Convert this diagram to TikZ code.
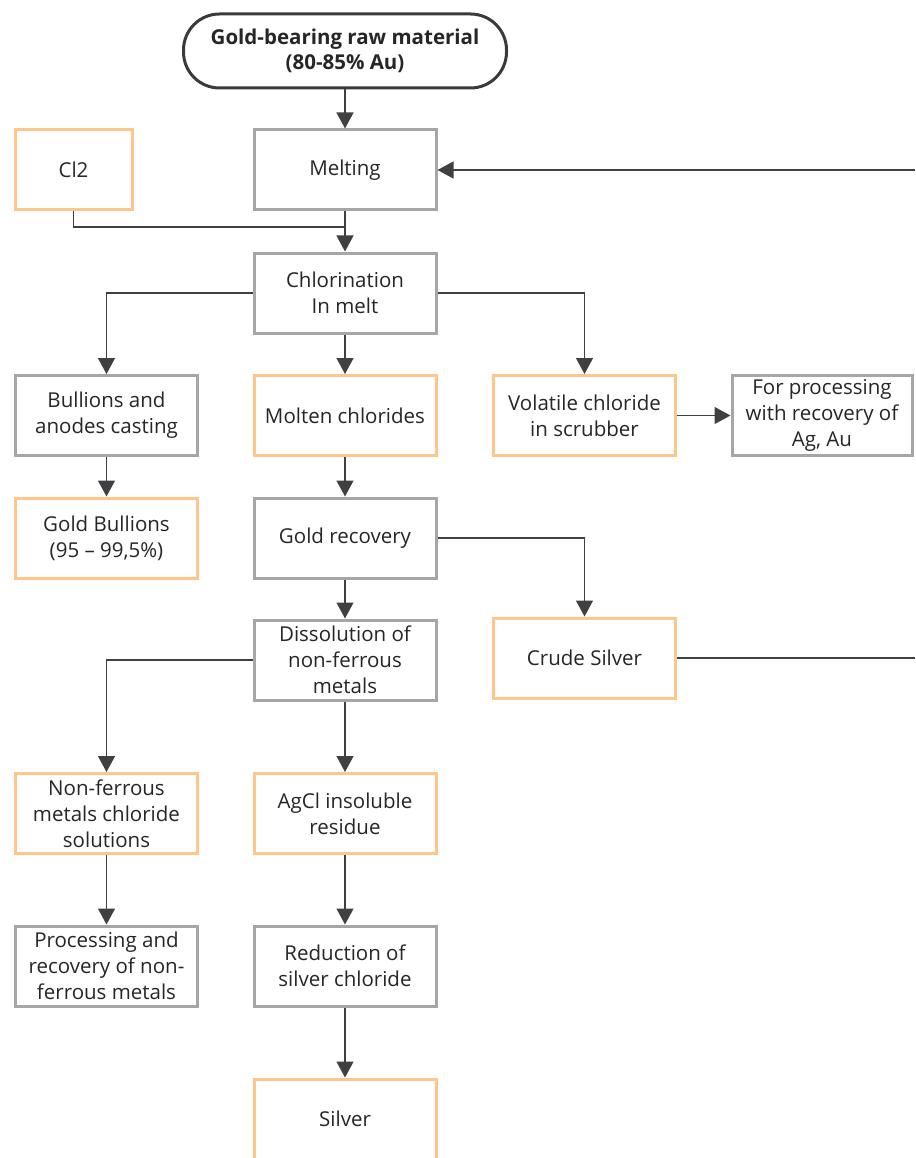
\documentclass[tikz,border=0pt]{standalone}
\usepackage{fontspec}
\setmainfont{Open Sans}
\usetikzlibrary{arrows.meta}
\definecolor{boxgray}{HTML}{A6A6A6}
\definecolor{boxorange}{HTML}{FFC68C}
\definecolor{linedark}{HTML}{404040}
\definecolor{txt}{HTML}{262626}
\tikzset{
  base/.style={rectangle, line width=3pt, fill=white, align=center, text=txt,
    font=\fontsize{20.5}{26}\selectfont, minimum height=80pt, inner sep=1pt},
  procbox/.style={base, draw=boxgray},
  matbox/.style={base, draw=boxorange},
  terminal/.style={rectangle, rounded corners=36pt, line width=3pt, draw=linedark!90!black,
    fill=white, align=center, text=txt, font=\fontsize{20.5}{25}\selectfont\bfseries,
    minimum width=323pt, minimum height=74pt},
  link/.style={draw=linedark, line width=1.3pt},
  arr/.style={link, -{Triangle[width=17pt,length=16pt]}},
}
\begin{document}
\begin{tikzpicture}[x=1pt,y=-1pt]
\useasboundingbox (0,0) rectangle (915,1158);

\node[terminal] (raw) at (345,51) {Gold-bearing raw material\\(80-85\% Au)};
\node[procbox, minimum width=182pt] (melt) at (345,170) {Melting};
\node[matbox, minimum width=117pt] (cl2) at (73.5,170) {Cl2};
\node[procbox, minimum width=182pt] (chlor) at (345,293) {Chlorination\\In melt};
\node[procbox, minimum width=182pt] (bull) at (106.5,415.5) {Bullions and\\anodes casting};
\node[matbox, minimum width=182pt] (molten) at (345,415.5) {Molten chlorides};
\node[matbox, minimum width=182pt] (vol) at (584.5,415.5) {Volatile chloride\\in scrubber};
\node[procbox, minimum width=180pt] (forproc) at (822,415.5) {For processing\\with recovery of\\Ag, Au};
\node[matbox, minimum width=182pt] (goldb) at (106.5,538) {Gold Bullions\\(95 -- 99,5\%)};
\node[procbox, minimum width=182pt] (goldrec) at (345,538) {Gold recovery};
\node[procbox, minimum width=182pt] (diss) at (345,660) {Dissolution of\\non-ferrous\\metals};
\node[matbox, minimum width=182pt] (crude) at (584.5,658) {Crude Silver};
\node[matbox, minimum width=182pt] (nonf) at (106.5,813.5) {Non-ferrous\\metals chloride\\solutions};
\node[matbox, minimum width=182pt] (agcl) at (345,813.5) {AgCl insoluble\\residue};
\node[procbox, minimum width=182pt] (proc) at (106.5,966) {Processing and\\recovery of non-\\ferrous metals};
\node[procbox, minimum width=182pt] (red) at (345,966) {Reduction of\\silver chloride};
\node[matbox, minimum width=182pt] (silver) at (345,1119) {Silver};

% junction of the chlorine feed and the return line from crude silver
\coordinate (clj) at (345,227);
\coordinate (retin) at (915,170);
\coordinate (retout) at (915,658);

\draw[arr] (raw) -- (melt);
\draw[arr] (melt) -- (chlor);
\draw[link] (cl2.south) |- (clj);
\draw[arr] (retin) -- (melt.east);
\draw[arr] (chlor.west) -| (bull.north);
\draw[arr] (chlor) -- (molten);
\draw[arr] (chlor.east) -| (vol.north);
\draw[arr] (vol) -- (forproc);
\draw[arr] (bull) -- (goldb);
\draw[arr] (molten) -- (goldrec);
\draw[arr] (goldrec.east) -| (crude.north);
\draw[arr] (goldrec) -- (diss);
\draw[link] (crude.east) -- (retout);
\draw[arr] (diss.west) -| (nonf.north);
\draw[arr] (diss) -- (agcl);
\draw[arr] (nonf) -- (proc);
\draw[arr] (agcl) -- (red);
\draw[arr] (red) -- (silver);
\end{tikzpicture}
\end{document}
